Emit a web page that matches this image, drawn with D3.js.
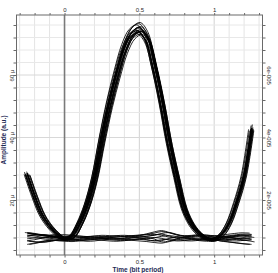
<!DOCTYPE html>
<html>
<head>
<meta charset="utf-8">
<script src="https://cdn.jsdelivr.net/npm/d3@7"></script>
<style>
  body { margin: 0; background: #fff; }
  svg { display: block; }
  text { font-family: "Liberation Sans", Arial, sans-serif; }
</style>
</head>
<body>
<div id="chart"></div>
<script>
// sample times (bit period) for every trace
var times = [-0.25, -0.2, -0.15, -0.1, -0.05, 0, 0.05, 0.1, 0.15, 0.2, 0.25, 0.3, 0.35, 0.4, 0.45,
  0.5, 0.55, 0.6, 0.65, 0.7, 0.75, 0.8, 0.85, 0.9, 0.95, 1, 1.05, 1.1, 1.15, 1.2, 1.25];

// mean "1" pulse, amplitude in micro units
var pulseShape = [28.5, 21.5, 15.5, 11.8, 9.2, 7.6, 8.4, 12.4, 18.3, 27.0, 39.5, 51.0, 60.6, 68.8, 73.6,
  75.0, 72.2, 63.3, 51.8, 38.5, 27.5, 17.5, 12.3, 9.3, 7.6, 7.4, 9.0, 12.8, 19.5, 28.0, 43.0];

// per trace jitter of the pulse bundle
var pulseShift = [0, -0.012, 0.009, -0.006, 0.015, -0.018, 0.004, 0.012, -0.009, 0.002, -0.015, 0.018,
  -0.003, 0.007, -0.020, 0.020, -0.001, 0.010, -0.013, 0.005];
var pulseGain = [1.0, 0.985, 1.01, 0.975, 0.99, 1.012, 0.965, 1.0, 0.98, 1.005, 0.972, 0.992, 1.018,
  0.978, 0.995, 0.97, 1.008, 0.982, 0.99, 1.02];
var pulseOffset = [0, 0.5, -0.4, 0.8, -0.6, 0.2, 1.0, -0.8, 0.4, -0.2, 0.6, -0.5, 0.1, 0.9, -0.3, 0.3,
  -0.7, 0.7, -0.1, 0.5];
var pulseLeft = [1, 1, 0, 1, 0, 1, 1, 0, 1, 1, 0, 1, 1, 0, 1, 1, 0, 1, 1, 0];   // 1 = previous bit high
var pulseRight = [1, 0, 1, 1, 1, 0, 1, 1, 0, 1, 1, 0, 1, 1, 1, 0, 1, 1, 0, 1];  // 1 = next bit high

// "0" level traces
var zero1 = [8.2, 8.0, 7.6, 7.4, 7.6, 7.9, 8.1, 8.0, 7.7, 7.5, 7.6, 7.9, 8.2, 8.3, 8.1, 7.8, 7.6, 7.9, 8.4, 8.6, 8.3, 7.9, 7.6, 7.5, 7.7, 8.0, 8.2, 8.1, 7.8, 7.6, 7.8];
var zero2 = [6.4, 6.8, 7.3, 7.6, 7.5, 7.2, 7.0, 7.1, 7.4, 7.6, 7.5, 7.3, 7.1, 7.0, 7.2, 7.5, 7.8, 8.0, 7.7, 7.2, 6.9, 7.0, 7.3, 7.6, 7.7, 7.5, 7.2, 7.0, 6.9, 7.1, 7.4];
var zero3 = [9.3, 9.0, 8.6, 8.3, 8.2, 8.4, 8.6, 8.5, 8.3, 8.1, 8.2, 8.4, 8.5, 8.4, 8.6, 8.8, 9.0, 9.4, 9.9, 9.5, 8.8, 8.4, 8.6, 8.8, 8.7, 8.5, 8.4, 8.6, 8.9, 9.1, 9.0];
var zero4 = [7.0, 7.3, 7.8, 8.1, 7.9, 7.5, 7.3, 7.4, 7.7, 7.9, 7.8, 7.6, 7.5, 7.7, 8.0, 8.2, 8.0, 7.5, 6.6, 6.9, 7.6, 8.1, 7.8, 7.4, 7.2, 7.4, 7.8, 8.2, 8.5, 8.3, 8.0];
var zero5 = [5.8, 6.2, 6.8, 7.1, 7.0, 6.8, 6.7, 6.9, 7.2, 7.3, 7.1, 6.9, 6.8, 7.0, 7.3, 7.4, 7.2, 7.0, 7.3, 7.5, 7.3, 7.0, 6.9, 7.1, 7.3, 7.2, 6.9, 6.6, 6.3, 6.0, 5.8];
var zero6 = [8.8, 8.5, 8.1, 7.9, 8.0, 8.3, 8.4, 8.2, 7.9, 7.8, 8.0, 8.3, 8.6, 8.7, 8.5, 8.2, 8.4, 8.7, 9.3, 9.6, 9.0, 8.4, 8.3, 8.5, 8.4, 8.1, 7.9, 8.0, 8.3, 8.6, 8.9];
var zero7 = [7.6, 7.8, 8.0, 7.8, 7.4, 7.1, 7.2, 7.6, 8.0, 8.1, 7.9, 7.6, 7.4, 7.5, 7.8, 8.1, 8.4, 8.8, 9.1, 8.5, 7.8, 7.6, 8.0, 8.2, 8.0, 7.6, 7.3, 7.4, 7.7, 8.0, 8.3];
var zero8 = [6.9, 6.6, 6.5, 6.8, 7.2, 7.4, 7.3, 7.0, 6.8, 6.9, 7.2, 7.5, 7.6, 7.4, 7.1, 6.9, 6.7, 6.4, 6.2, 6.7, 7.2, 7.5, 7.3, 7.0, 6.8, 6.9, 7.2, 7.5, 7.4, 7.0, 6.6];
var zero9 = [8.5, 8.8, 8.9, 8.6, 8.2, 7.8, 7.7, 7.9, 8.2, 8.4, 8.3, 8.0, 7.8, 7.9, 8.3, 8.6, 8.9, 9.0, 8.7, 8.1, 7.9, 8.1, 8.4, 8.6, 8.5, 8.2, 8.1, 8.3, 8.6, 8.8, 8.6];
var zero10 = [7.3, 7.0, 6.9, 7.2, 7.6, 7.8, 7.6, 7.3, 7.2, 7.4, 7.7, 7.9, 7.8, 7.5, 7.4, 7.6, 7.3, 6.9, 7.0, 7.7, 8.2, 8.0, 7.6, 7.3, 7.2, 7.5, 7.7, 7.6, 7.3, 7.1, 7.2];
var zero11 = [9.6, 9.3, 8.9, 8.7, 8.8, 8.9, 8.7, 8.4, 8.3, 8.5, 8.7, 8.6, 8.4, 8.3, 8.5, 8.7, 9.2, 9.8, 10.2, 9.6, 8.9, 8.6, 8.7, 8.9, 8.8, 8.6, 8.7, 9.0, 9.3, 9.5, 9.4];
var zeroTraces = [zero1, zero2, zero3, zero4, zero5, zero6, zero7, zero8, zero9, zero10, zero11];
var zeroLeft = [0, 1, 0, 0, 0, 1, 0, 0, 0, 1, 0];
var zeroRight = [0, 0, 0, 1, 0, 0, 0, 1, 0, 0, 1];

// ticks and labels
var xTicks = [-0.3, -0.2, -0.1, 0, 0.1, 0.2, 0.3, 0.4, 0.5, 0.6, 0.7, 0.8, 0.9, 1, 1.1, 1.2, 1.3];
var xLabelVals = [0, 0.5, 1];
var xLabelText = ["0", "0.5", "1"];
var yTicks = [4, 8, 12, 16, 20, 24, 28, 32, 36, 40, 44, 48, 52, 56, 60, 64, 68, 72, 76];
var yLabelVals = [20, 40, 60];
var yLeftText = ["20 \u03bc", "40 \u03bc", "60 \u03bc"];
var yRightText = ["2e-005", "4e-005", "6e-005"];

var width = 278, height = 273;
var plotLeft = 16.5, plotRight = 262.5, plotTop = 15, plotBottom = 255;

var xScale = d3.scaleLinear().domain([-0.321, 1.323]).range([plotLeft, plotRight]);
var yScale = d3.scaleLinear().domain([2.4, 79.2]).range([plotBottom, plotTop]);

var svg = d3.select("#chart").append("svg")
  .attr("width", width)
  .attr("height", height);

function labelFor(vals, texts) {
  return function(d) {
    var i = vals.findIndex(v => Math.abs(v - d) < 1e-6);
    return i < 0 ? "" : texts[i];
  };
}

// grid
svg.append("g").selectAll("line")
  .data(xTicks)
  .enter().append("line")
  .attr("x1", d => xScale(d)).attr("x2", d => xScale(d))
  .attr("y1", plotTop).attr("y2", plotBottom)
  .attr("stroke", d => Math.abs(d - 0.5) < 1e-6 || Math.abs(d - 1) < 1e-6 ? "#d2d2d2" : "#e4e4e4")
  .attr("stroke-width", 1);

svg.append("g").selectAll("line")
  .data(yTicks)
  .enter().append("line")
  .attr("x1", plotLeft).attr("x2", plotRight)
  .attr("y1", d => yScale(d)).attr("y2", d => yScale(d))
  .attr("stroke", d => yLabelVals.indexOf(d) >= 0 ? "#d8d8d8" : "#e8e8e8")
  .attr("stroke-width", 1);

// time zero line
svg.append("line")
  .attr("x1", xScale(0)).attr("x2", xScale(0))
  .attr("y1", plotTop).attr("y2", plotBottom)
  .attr("stroke", "#7a7a7a")
  .attr("stroke-width", 1.6);

// traces
var line = d3.line()
  .x(d => xScale(d[0]))
  .y(d => yScale(d[1]))
  .curve(d3.curveCatmullRom);

var traces = [];
pulseShift.forEach(function(s, k) {
  var pts = times.map(function(t, i) {
    var v = pulseShape[i] * pulseGain[k] + pulseOffset[k] * 0.6;
    if (pulseLeft[k] === 0 && i < 5) v = zeroTraces[k % zeroTraces.length][i];
    if (pulseRight[k] === 0 && i > 25) v = zeroTraces[(k + 3) % zeroTraces.length][i];
    return [t + s, v];
  });
  traces.push(pts);
});
zeroTraces.forEach(function(z, k) {
  var pts = times.map(function(t, i) {
    var v = z[i];
    if (zeroLeft[k] === 1 && i < 5) v = pulseShape[i];
    if (zeroRight[k] === 1 && i > 25) v = pulseShape[i];
    return [t, v];
  });
  traces.push(pts);
});

svg.append("g").selectAll("path")
  .data(traces)
  .enter().append("path")
  .attr("d", line)
  .attr("fill", "none")
  .attr("stroke", "#000")
  .attr("stroke-width", 0.85);

// axes
var tickColor = "#6a6a6a";

svg.append("g")
  .attr("transform", "translate(0," + plotTop + ")")
  .call(d3.axisTop(xScale).tickValues(xTicks).tickSize(2).tickSizeOuter(0).tickPadding(1.5)
    .tickFormat(labelFor(xLabelVals, xLabelText)));

svg.append("g")
  .attr("transform", "translate(0," + plotBottom + ")")
  .call(d3.axisBottom(xScale).tickValues(xTicks).tickSize(2.5).tickSizeOuter(0).tickPadding(2.5)
    .tickFormat(labelFor(xLabelVals, xLabelText)));

var leftAxis = svg.append("g")
  .attr("transform", "translate(" + plotLeft + ",0)")
  .call(d3.axisLeft(yScale).tickValues(yTicks).tickSize(3).tickSizeOuter(0)
    .tickFormat(labelFor(yLabelVals, yLeftText)));
leftAxis.selectAll(".tick text")
  .attr("transform", "rotate(-90)")
  .attr("x", 0).attr("y", -2.5).attr("dy", 0)
  .attr("text-anchor", "middle");

var rightAxis = svg.append("g")
  .attr("transform", "translate(" + plotRight + ",0)")
  .call(d3.axisRight(yScale).tickValues(yTicks).tickSize(3).tickSizeOuter(0)
    .tickFormat(labelFor(yLabelVals, yRightText)));
rightAxis.selectAll(".tick text")
  .attr("transform", "rotate(90)")
  .attr("x", 0).attr("y", -4.2).attr("dy", 0)
  .attr("text-anchor", "middle");

svg.selectAll(".domain").remove();
svg.selectAll(".tick line").attr("stroke", tickColor);
svg.selectAll(".tick text")
  .attr("font-size", 6)
  .attr("font-family", "Liberation Sans, Arial, sans-serif")
  .attr("fill", "#2a2a2a");

svg.append("rect")
  .attr("x", plotLeft).attr("y", plotTop)
  .attr("width", plotRight - plotLeft).attr("height", plotBottom - plotTop)
  .attr("fill", "none")
  .attr("stroke", tickColor)
  .attr("stroke-width", 1);

// axis titles
svg.append("text")
  .attr("x", 138).attr("y", 271.5)
  .attr("text-anchor", "middle")
  .attr("font-size", 6.5)
  .attr("font-weight", "bold")
  .attr("fill", "#1e2a55")
  .text("Time (bit period)");

svg.append("text")
  .attr("transform", "translate(6,140) rotate(-90)")
  .attr("text-anchor", "middle")
  .attr("font-size", 6.5)
  .attr("font-weight", "bold")
  .attr("fill", "#1e2a55")
  .text("Amplitude (a.u.)");
</script>
</body>
</html>
